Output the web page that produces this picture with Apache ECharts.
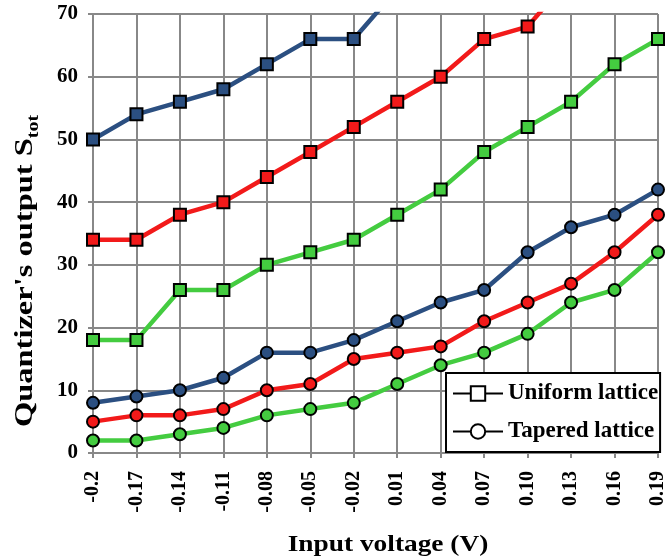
<!DOCTYPE html>
<html>
<head>
<meta charset="utf-8">
<script src="https://cdn.jsdelivr.net/npm/echarts@6/dist/echarts.min.js"></script>
<style>
html,body{margin:0;padding:0;background:#fff;}
#chart{width:668px;height:560px;}
</style>
</head>
<body>
<div id="chart"></div>
<script>
const categories = ['-0.2','-0.17','-0.14','-0.11','-0.08','-0.05','-0.02','0.01','0.04','0.07','0.10','0.13','0.16','0.19'];
const yTicks = [0,10,20,30,40,50,60,70];
// Uniform lattice (squares)
const uniformBlue  = [50,54,56,58,62,66,66,74,null,null,null,null,null,null];
const uniformRed   = [34,34,38,40,44,48,52,56,60,66,68,76,null,null];
const uniformGreen = [18,18,26,26,30,32,34,38,42,48,52,56,62,66];
// Tapered lattice (circles)
const taperedBlue  = [8,9,10,12,16,16,18,21,24,26,32,36,38,42];
const taperedRed   = [5,6,6,7,10,11,15,16,17,21,24,27,32,38];
const taperedGreen = [2,2,3,4,6,7,8,11,14,16,19,24,26,32];

const BLUE = '#2b4f81', RED = '#f21a1a', GREEN = '#44cc40';
const FONT = '"Liberation Serif", "Times New Roman", serif';

function mk(data, color, symbol) {
  return {
    type: 'line', data: data, symbol: symbol, symbolSize: 12,
    connectNulls: false, clip: true, z: 3,
    lineStyle: { color: color, width: 4.5 },
    itemStyle: { color: color, borderColor: '#000', borderWidth: 2 },
    emphasis: { disabled: true }
  };
}
function dummy(name, symbol) {
  return {
    type: 'line', name: name, data: [], symbol: symbol, symbolSize: 12,
    lineStyle: { color: '#000', width: 3 },
    itemStyle: { color: '#fff', borderColor: '#000', borderWidth: 2 }
  };
}

const chart = echarts.init(document.getElementById('chart'));
chart.setOption({
  animation: false,
  backgroundColor: '#fff',
  grid: { left: 93, right: 8, top: 14, bottom: 107, containLabel: false },
  legend: {
    data: ['Uniform lattice', 'Tapered lattice'],
    orient: 'vertical',
    left: 446, top: 373,
    padding: [9, 2, 9, 6],
    itemWidth: 50, itemHeight: 18, itemGap: 15,
    backgroundColor: '#fff', borderColor: '#000', borderWidth: 2,
    textStyle: { fontFamily: FONT, fontWeight: 'bold', fontSize: 23, color: '#000' }
  },
  graphic: [
    {
      type: 'text', x: 388, y: 545, scaleX: 1.14, z: 10,
      style: { text: 'Input voltage (V)', fontFamily: FONT, fontWeight: 'bold', fontSize: 24, fill: '#000', align: 'center', verticalAlign: 'middle' }
    },
    {
      type: 'text', x: 23, y: 271, rotation: Math.PI / 2, scaleX: 1.25, z: 10,
      style: {
        text: '{a|Quantizer\'s output S}{b|tot}', align: 'center', verticalAlign: 'middle',
        rich: {
          a: { fontFamily: FONT, fontWeight: 'bold', fontSize: 26, fill: '#000', lineHeight: 30, verticalAlign: 'bottom' },
          b: { fontFamily: FONT, fontWeight: 'bold', fontSize: 16, fill: '#000', lineHeight: 30, verticalAlign: 'bottom', padding: [0,0,-4,0] }
        }
      }
    }
  ],
  xAxis: {
    type: 'category', data: categories, boundaryGap: false,
    axisLine: { show: true, lineStyle: { color: '#888', width: 2 } },
    axisTick: { show: true, length: 5, interval: 0, lineStyle: { color: '#888', width: 2 } },
    axisLabel: { rotate: 90, interval: 0, margin: 18, fontFamily: FONT, fontWeight: 'bold', fontSize: 20, color: '#000' },
    splitLine: { show: true, interval: 0, lineStyle: { color: '#888', width: 2 } }
  },
  yAxis: {
    type: 'value', min: yTicks[0], max: yTicks[yTicks.length - 1], interval: 10,
    axisLine: { show: true, lineStyle: { color: '#888', width: 2 } },
    axisTick: { show: true, length: 5, lineStyle: { color: '#888', width: 2 } },
    axisLabel: { margin: 15, fontFamily: FONT, fontWeight: 'bold', fontSize: 21, color: '#000' },
    splitLine: { show: true, lineStyle: { color: '#888', width: 2 } }
  },
  series: [
    mk(uniformBlue, BLUE, 'rect'),
    mk(uniformRed, RED, 'rect'),
    mk(uniformGreen, GREEN, 'rect'),
    mk(taperedBlue, BLUE, 'circle'),
    mk(taperedRed, RED, 'circle'),
    mk(taperedGreen, GREEN, 'circle'),
    dummy('Uniform lattice', 'rect'),
    dummy('Tapered lattice', 'circle')
  ]
});
</script>
</body>
</html>
